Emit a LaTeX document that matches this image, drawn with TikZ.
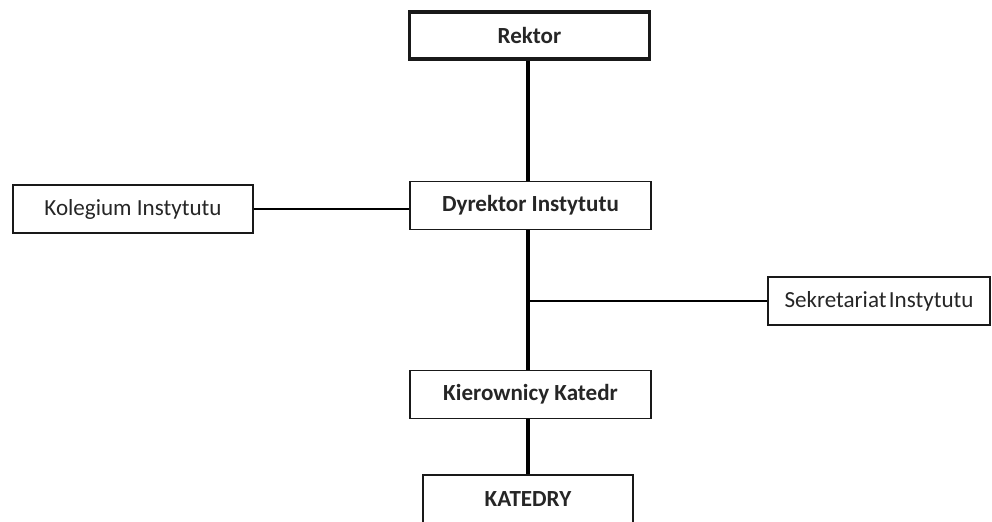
\documentclass[tikz,border=0pt]{standalone}
\usepackage{fontspec}
\setmainfont{Carlito}
\begin{document}
\begin{tikzpicture}[x=0.75pt,y=-0.75pt,
  box/.style={draw=black!90,line width=1.3pt,rectangle,inner sep=0pt,
    minimum width=#1*0.75pt,minimum height=48*0.75pt,
    font=\fontsize{17.3}{20}\selectfont,text=black!85},
  box/.default=241,
  mainbox/.style={box=#1,font=\fontsize{17.3}{20}\selectfont\bfseries},
  mainbox/.default=241,
  spine/.style={line width=2.4pt,draw=black},
  side/.style={line width=1.1pt,draw=black}]
\useasboundingbox[fill=white] (0,0) rectangle (992,521);
\node[mainbox=240,line width=2.4pt,minimum height=47*0.75pt] (rek) at (529.5,35.5) {Rektor};
\node[mainbox] (dyr) at (530.5,205.5) {Dyrektor Instytutu};
\node[box=240] (kol) at (133,209) {Kolegium Instytutu};
\node[box=222] (sek) at (879,301) {Sekretariat\hspace{0.1em}Instytutu};
\node[mainbox] (kie) at (530.5,394.5) {Kierownicy Katedr};
\node[mainbox=210] (kat) at (528,499) {KATEDRY};
\coordinate (sp) at (528,0);
\coordinate (br) at (528,301);
\draw[spine] (rek.south -| sp) -- (dyr.north -| sp);
\draw[spine] (dyr.south -| sp) -- (kie.north -| sp);
\draw[spine] (kie.south -| sp) -- (kat.north -| sp);
\draw[spine,line width=2pt] (br) -- (sek.west);
\draw[side] (kol.east) -- (kol.east -| dyr.west);
\end{tikzpicture}
\end{document}
